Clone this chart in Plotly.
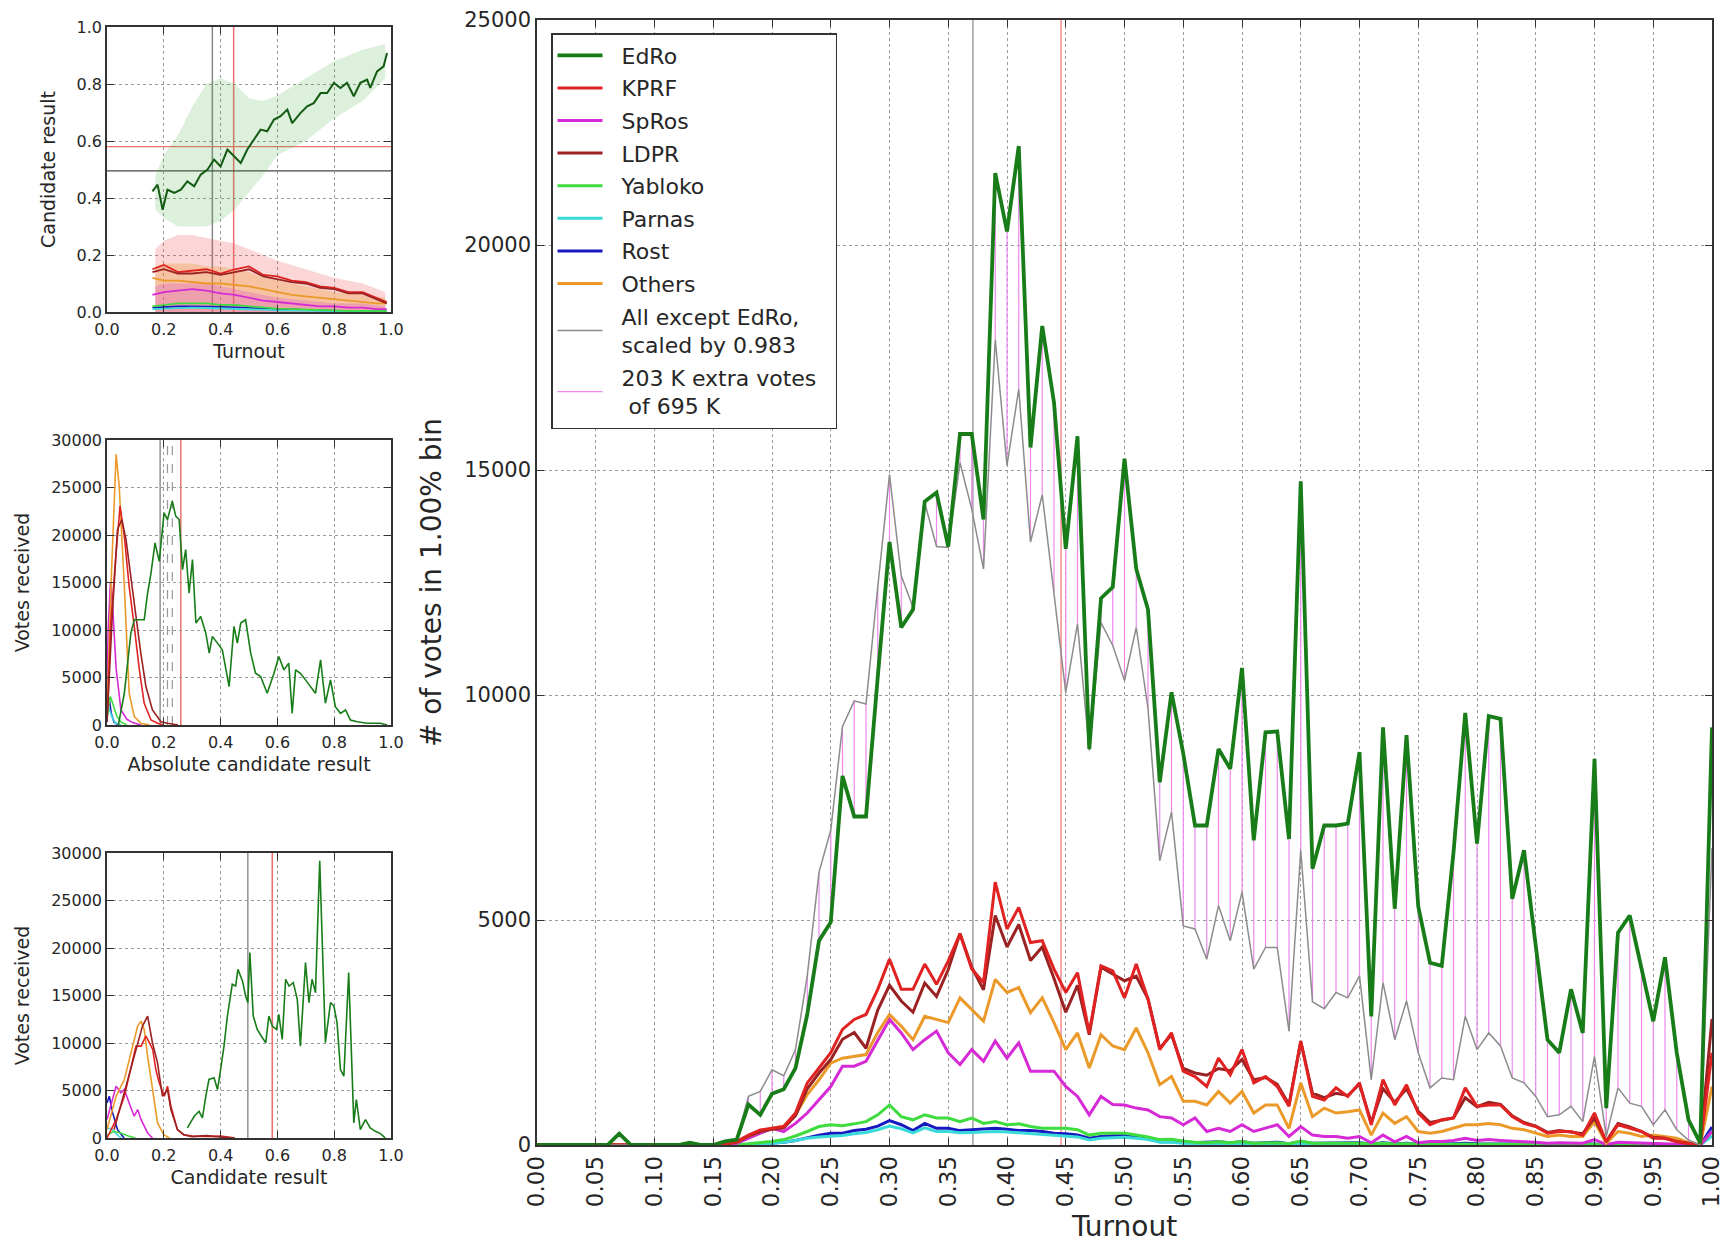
import plotly.graph_objects as go

W, H = 1726, 1245

# ---------------- main chart data (1% turnout bins) ----------------
turnout = [i / 100 for i in range(101)]

edro = [0, 0, 0, 0, 0, 0, 0, 250, 0, 0, 0, 0, 0, 50, 0, 0, 80, 120, 900, 670,
        1140, 1240, 1710, 2900, 4540, 4950, 8200, 7300, 7300, 10400,
        13400, 11500, 11900, 14300, 14500, 13300, 15800, 15800, 13900, 21600,
        20300, 22200, 15500, 18200, 16500, 13250, 15750, 8800, 12150, 12400,
        15250, 12800, 11900, 8060, 10060, 8700, 7100, 7100, 8800, 8360,
        10600, 6770, 9170, 9190, 6800, 14750, 6140, 7100, 7100, 7140,
        8730, 2860, 9280, 5250, 9110, 5300, 4050, 3980, 6500, 9600,
        6700, 9530, 9470, 5470, 6550, 4430, 2340, 2050, 3460, 2490,
        8580, 820, 4720, 5100, 3900, 2750, 4170, 2050, 560, 40, 9280]

all_except = [0, 0, 0, 0, 0, 0, 0, 0, 0, 0, 0, 0, 0, 60, 0, 0, 90, 130, 1080, 1190,
              1670, 1540, 2120, 3760, 6060, 7000, 9300, 9870, 9800, 12400,
              14900, 12650, 11950, 14270, 13300, 13280, 15160, 14130, 12800, 17900,
              15100, 16800, 13400, 14450, 12300, 10060, 11580, 8770, 11610, 11100,
              10320, 11500, 9700, 6320, 7400, 4870, 4800, 4130, 5320, 4540,
              5620, 3910, 4390, 4390, 2530, 6550, 3180, 3030, 3390, 3270,
              3760, 1450, 3610, 2340, 3200, 2050, 1270, 1490, 1450, 2860,
              2120, 2490, 2200, 1490, 1380, 1080, 630, 670, 860, 520,
              1970, 190, 1270, 930, 860, 450, 780, 340, 110, 0, 6600]

kprf = [0, 0, 0, 0, 0, 0, 0, 0, 0, 0, 0, 0, 0, 0, 0, 0, 30, 75, 220, 335,
        370, 410, 710, 1380, 1710, 2050, 2570, 2790, 2900, 3460,
        4130, 3460, 3460, 4020, 3570, 4090, 4690, 3910, 3610, 5840,
        4800, 5280, 4500, 4540, 3910, 3390, 3830, 2490, 3980, 3870,
        3270, 4020, 3240, 2120, 2490, 1640, 1520, 1300, 1930, 1560,
        2120, 1380, 1520, 1300, 860, 2310, 1080, 1000, 1270, 1080,
        1380, 450, 1450, 890, 1340, 710, 450, 560, 600, 1270,
        860, 890, 890, 630, 480, 410, 260, 300, 300, 220,
        710, 70, 450, 370, 300, 150, 150, 70, 40, 0, 2050]

ldpr = [0, 0, 0, 0, 0, 0, 0, 0, 0, 0, 0, 0, 0, 0, 0, 0, 20, 60, 200, 300,
        350, 380, 650, 1250, 1600, 1900, 2350, 2500, 2150, 3000,
        3550, 3200, 2950, 3600, 3300, 3900, 4700, 3950, 3450, 5100,
        4400, 4900, 4100, 4400, 3700, 2950, 3550, 2450, 3950, 3800,
        3650, 3750, 3250, 2150, 2450, 1700, 1600, 1550, 1700, 1650,
        1900, 1450, 1500, 1350, 900, 2300, 1150, 1050, 1150, 1100,
        1350, 500, 1250, 950, 1250, 750, 500, 550, 600, 1050,
        850, 950, 900, 650, 500, 420, 280, 320, 280, 250,
        600, 80, 480, 400, 300, 170, 150, 80, 40, 0, 2800]

others = [0, 0, 0, 0, 0, 0, 0, 0, 0, 0, 0, 0, 0, 0, 0, 0, 30, 60, 200, 300,
          370, 420, 670, 1120, 1450, 1820, 1930, 1970, 2010, 2500,
          2900, 2640, 2340, 2860, 2790, 2720, 3270, 3010, 2750, 3680,
          3390, 3500, 2940, 3270, 2720, 2120, 2490, 1710, 2450, 2200,
          2120, 2600, 2050, 1340, 1520, 970, 970, 890, 1190, 930,
          1190, 710, 890, 890, 370, 1380, 630, 820, 710, 740,
          780, 220, 710, 480, 630, 300, 260, 300, 370, 450,
          450, 480, 450, 370, 340, 260, 190, 220, 190, 190,
          520, 40, 300, 260, 190, 220, 190, 150, 50, 0, 1300]

spros = [0, 0, 0, 0, 0, 0, 0, 0, 0, 0, 0, 0, 0, 0, 0, 0, 0, 40, 150, 250,
         370, 300, 480, 710, 1000, 1300, 1750, 1750, 1860, 2340,
         2790, 2490, 2120, 2340, 2530, 2050, 1790, 2120, 1860, 2310,
         1930, 2270, 1640, 1640, 1640, 1300, 1080, 670, 1080, 900,
         890, 820, 780, 630, 600, 450, 600, 300, 370, 300,
         450, 300, 370, 450, 190, 410, 220, 190, 190, 150,
         190, 50, 220, 70, 190, 50, 80, 80, 100, 150,
         100, 120, 100, 80, 70, 60, 40, 50, 40, 40,
         120, 10, 60, 50, 40, 30, 30, 20, 10, 0, 300]

yabloko = [0, 0, 0, 0, 0, 0, 0, 0, 0, 0, 0, 0, 0, 0, 0, 0, 0, 0, 30, 50,
           80, 120, 200, 300, 410, 450, 430, 470, 520, 670,
           890, 630, 560, 670, 600, 600, 520, 600, 480, 520,
           450, 470, 410, 370, 370, 370, 340, 220, 260, 260,
           260, 220, 180, 120, 130, 90, 60, 50, 70, 50,
           80, 40, 50, 50, 30, 90, 40, 40, 40, 30,
           40, 20, 40, 20, 30, 20, 20, 20, 30, 30,
           20, 20, 20, 20, 15, 15, 10, 10, 10, 10,
           20, 5, 15, 10, 10, 5, 5, 5, 5, 0, 300]

parnas = [0, 0, 0, 0, 0, 0, 0, 0, 0, 0, 0, 0, 0, 0, 0, 0, 0, 0, 0, 20,
          40, 60, 100, 150, 180, 200, 210, 250, 280, 340,
          420, 360, 270, 380, 300, 300, 270, 280, 290, 300,
          290, 270, 260, 240, 210, 190, 180, 110, 150, 160,
          170, 150, 120, 60, 60, 40, 30, 30, 40, 30,
          40, 30, 30, 30, 20, 40, 20, 20, 20, 20,
          20, 10, 20, 10, 20, 10, 10, 10, 10, 20,
          10, 10, 10, 10, 10, 10, 5, 5, 5, 5,
          10, 0, 5, 5, 5, 5, 5, 0, 0, 0, 200]

rost = [0, 0, 0, 0, 0, 0, 0, 0, 0, 0, 0, 0, 0, 0, 0, 0, 0, 0, 0, 20,
        40, 60, 100, 160, 220, 260, 260, 320, 350, 420,
        540, 450, 320, 480, 370, 370, 320, 340, 350, 370,
        350, 320, 320, 300, 260, 250, 220, 150, 190, 200,
        220, 200, 150, 70, 80, 50, 50, 60, 70, 50,
        70, 40, 50, 60, 30, 70, 40, 40, 50, 40,
        50, 20, 50, 30, 40, 20, 30, 30, 30, 40,
        30, 30, 30, 20, 20, 20, 10, 10, 10, 10,
        20, 0, 10, 10, 10, 5, 5, 5, 0, 0, 400]

ref_turnout_gray = 0.371
ref_turnout_red = 0.446

# ---------------- top-left: result vs turnout ----------------
tl_edro_t = [0.16, 0.178, 0.196, 0.213, 0.237, 0.26, 0.283, 0.307, 0.33, 0.354, 0.377, 0.4,
             0.424, 0.447, 0.471, 0.494, 0.518, 0.541, 0.564, 0.588, 0.611, 0.635, 0.652,
             0.681, 0.705, 0.728, 0.752, 0.775, 0.799, 0.822, 0.845, 0.869, 0.892, 0.916,
             0.927, 0.951, 0.974, 0.986]
tl_edro = [0.423, 0.447, 0.359, 0.429, 0.418, 0.429, 0.458, 0.441, 0.482, 0.5, 0.535, 0.511,
           0.57, 0.546, 0.523, 0.57, 0.605, 0.64, 0.634, 0.675, 0.687, 0.71, 0.663,
           0.698, 0.722, 0.733, 0.768, 0.768, 0.804, 0.786, 0.804, 0.757, 0.804, 0.815,
           0.786, 0.844, 0.862, 0.909]
tl_t = [0.16, 0.2, 0.25, 0.3, 0.35, 0.4, 0.45, 0.5, 0.55, 0.6, 0.65, 0.7, 0.75, 0.8, 0.85, 0.9, 0.95, 0.985]
tl_kprf = [0.15, 0.165, 0.14, 0.145, 0.15, 0.135, 0.15, 0.16, 0.13, 0.125, 0.11, 0.105, 0.09, 0.085, 0.07, 0.07, 0.05, 0.035]
tl_ldpr = [0.14, 0.15, 0.135, 0.135, 0.14, 0.13, 0.14, 0.15, 0.125, 0.115, 0.105, 0.1, 0.085, 0.08, 0.065, 0.065, 0.045, 0.03]
tl_others = [0.12, 0.11, 0.11, 0.105, 0.1, 0.1, 0.095, 0.09, 0.08, 0.07, 0.06, 0.055, 0.05, 0.045, 0.04, 0.035, 0.03, 0.03]
tl_spros = [0.06, 0.07, 0.075, 0.08, 0.075, 0.065, 0.06, 0.05, 0.04, 0.035, 0.03, 0.025, 0.02, 0.02, 0.015, 0.015, 0.01, 0.01]
tl_yab = [0.02, 0.025, 0.03, 0.03, 0.03, 0.025, 0.025, 0.02, 0.015, 0.012, 0.01, 0.008, 0.006, 0.005, 0.004, 0.004, 0.003, 0.003]
tl_parnas = [0.01, 0.012, 0.015, 0.015, 0.014, 0.013, 0.012, 0.01, 0.008, 0.006, 0.005, 0.004, 0.003, 0.003, 0.002, 0.002, 0.002, 0.002]
tl_rost = [0.015, 0.018, 0.02, 0.02, 0.02, 0.018, 0.016, 0.014, 0.012, 0.01, 0.008, 0.006, 0.005, 0.004, 0.003, 0.003, 0.002, 0.002]
# envelopes of the precinct point clouds
cloud_t = [0.17, 0.2, 0.25, 0.3, 0.35, 0.4, 0.45, 0.5, 0.55, 0.6, 0.7, 0.8, 0.9, 0.98]
green_hi = [0.48, 0.55, 0.62, 0.72, 0.8, 0.82, 0.8, 0.75, 0.74, 0.76, 0.82, 0.88, 0.92, 0.94]
green_lo = [0.36, 0.33, 0.3, 0.3, 0.3, 0.32, 0.36, 0.42, 0.48, 0.55, 0.6, 0.68, 0.74, 0.82]
red_hi = [0.22, 0.25, 0.27, 0.27, 0.26, 0.25, 0.24, 0.22, 0.2, 0.18, 0.15, 0.12, 0.1, 0.07]
orange_hi = [0.16, 0.17, 0.17, 0.17, 0.16, 0.16, 0.15, 0.14, 0.12, 0.11, 0.09, 0.07, 0.06, 0.05]
mag_hi = [0.09, 0.1, 0.1, 0.1, 0.1, 0.09, 0.08, 0.07, 0.06, 0.05, 0.04, 0.03, 0.03, 0.02]
tl_hline_gray = 0.495
tl_hline_red = 0.58

# ---------------- middle-left: absolute result ----------------
mid_edro_x = [0.04, 0.061, 0.084, 0.096, 0.108, 0.131, 0.143, 0.155, 0.169, 0.184, 0.201, 0.213, 0.23,
              0.242, 0.254, 0.266, 0.277, 0.289, 0.301, 0.313, 0.33, 0.348, 0.36, 0.371, 0.389,
              0.406, 0.43, 0.447, 0.459, 0.471, 0.488, 0.506, 0.523, 0.541, 0.564, 0.588, 0.605,
              0.623, 0.64, 0.652, 0.664, 0.681, 0.699, 0.717, 0.734, 0.752, 0.769, 0.787, 0.804,
              0.822, 0.84, 0.857, 0.881, 0.916, 0.963, 0.986]
mid_edro_y = [0, 3340, 9670, 11080, 11080, 11080, 13890, 16000, 19170, 17230, 22330, 21630, 23570,
              21980, 21630, 16360, 18470, 13890, 17410, 10730, 11430, 9670, 7560, 9320, 8620,
              7910, 4050, 10380, 8620, 10730, 11080, 7560, 5450, 5100, 3340, 5450, 7210,
              5800, 6510, 1230, 5800, 5450, 4750, 4050, 3340, 6860, 2290, 4750, 1930,
              1230, 1580, 530, 350, 180, 180, 0]
mid_others_x = [0, 0.014, 0.032, 0.043, 0.061, 0.078, 0.096, 0.12, 0.15]
mid_others_y = [1000, 14600, 28490, 25150, 14600, 3340, 880, 180, 0]
mid_kprf_x = [0, 0.014, 0.032, 0.046, 0.061, 0.078, 0.096, 0.114, 0.131, 0.155, 0.178, 0.2]
mid_kprf_y = [350, 11080, 18110, 23040, 19870, 14600, 10380, 5800, 2290, 530, 180, 0]
mid_ldpr_x = [0, 0.02, 0.037, 0.052, 0.067, 0.084, 0.102, 0.119, 0.137, 0.16, 0.19, 0.213, 0.25]
mid_ldpr_y = [300, 12300, 20580, 21630, 19520, 15300, 11430, 7560, 4050, 1580, 350, 180, 0]
mid_spros_x = [0, 0.004, 0.012, 0.02, 0.032, 0.049, 0.07, 0.09, 0.12]
mid_spros_y = [3000, 10000, 15000, 12500, 6000, 1580, 600, 250, 0]
mid_yab_x = [0, 0.005, 0.012, 0.02, 0.035, 0.05, 0.07]
mid_yab_y = [500, 2000, 3000, 2200, 900, 300, 0]
mid_parnas_x = [0, 0.005, 0.01, 0.02, 0.03, 0.05]
mid_parnas_y = [800, 2000, 1500, 700, 200, 0]
mid_rost_x = [0, 0.004, 0.009, 0.015, 0.025, 0.04]
mid_rost_y = [1500, 3000, 2500, 1200, 300, 0]
mid_vl_gray = 0.187
mid_vl_dash = [0.213, 0.23]
mid_vl_red = 0.26

# ---------------- bottom-left: candidate result ----------------
bot_edro_x = [0.283, 0.307, 0.324, 0.336, 0.348, 0.359, 0.377, 0.389, 0.4, 0.412, 0.424, 0.441, 0.453,
              0.461, 0.477, 0.488, 0.496, 0.503, 0.515, 0.529, 0.547, 0.559, 0.57, 0.582, 0.597,
              0.605, 0.617, 0.629, 0.641, 0.656, 0.67, 0.681, 0.699, 0.711, 0.722, 0.734, 0.749,
              0.769, 0.787, 0.799, 0.81, 0.822, 0.834, 0.851, 0.869, 0.878, 0.892, 0.91, 0.927,
              0.945, 0.963, 0.98]
bot_edro_y = [1060, 2290, 2810, 2110, 4400, 6160, 6330, 5100, 7210, 9670, 12840, 16180, 16000,
              17760, 16530, 14950, 14250, 19520, 12840, 11430, 10550, 10030, 12840, 11780, 11430,
              13010, 10380, 16710, 16000, 16360, 14600, 9670, 18470, 14250, 16710, 15300, 29190,
              10030, 14250, 13890, 12140, 7210, 6510, 17410, 1580, 4050, 880, 1940, 1060,
              700, 460, 0]
bot_others_x = [0, 0.032, 0.061, 0.09, 0.108, 0.12, 0.131, 0.143, 0.16, 0.178, 0.2, 0.22]
bot_others_y = [900, 4400, 6150, 9670, 11780, 12300, 11430, 8620, 5100, 1580, 350, 0]
bot_kprf_x = [0, 0.032, 0.061, 0.084, 0.102, 0.12, 0.137, 0.149, 0.161, 0.172, 0.184, 0.202, 0.213,
              0.225, 0.248, 0.27, 0.3, 0.35, 0.4, 0.45]
bot_kprf_y = [0, 1930, 4400, 7210, 9670, 9670, 10730, 10030, 9320, 7210, 5800, 4400, 5450,
              3340, 880, 350, 200, 150, 200, 0]
bot_ldpr_x = [0.025, 0.061, 0.09, 0.108, 0.125, 0.143, 0.16, 0.178, 0.195, 0.213, 0.225, 0.248,
              0.27, 0.3, 0.35, 0.4, 0.45]
bot_ldpr_y = [880, 4750, 7910, 9670, 11780, 12840, 10030, 7910, 4400, 5100, 3000, 880,
              350, 150, 250, 100, 0]
bot_spros_x = [0, 0.02, 0.032, 0.049, 0.061, 0.078, 0.096, 0.108, 0.12, 0.143, 0.16]
bot_spros_y = [1940, 4050, 5450, 4750, 5100, 3690, 2290, 2990, 1930, 530, 0]
bot_rost_x = [0, 0.008, 0.02, 0.037, 0.06]
bot_rost_y = [3690, 4400, 2640, 880, 0]
bot_parnas_x = [0, 0.015, 0.03, 0.05]
bot_parnas_y = [1000, 1000, 500, 0]
bot_yab_x = [0, 0.025, 0.05, 0.075, 0.1]
bot_yab_y = [300, 700, 500, 200, 0]
bot_vl_gray = 0.496
bot_vl_red = 0.582

# ---------------- styles ----------------
C_EDRO = "#187d18"
C_KPRF = "#e02222"
C_SPROS = "#d62ad6"
C_LDPR = "#9b2222"
C_YAB = "#3fdc3f"
C_PARNAS = "#3adada"
C_ROST = "#1818c0"
C_OTHERS = "#eb9a2a"
C_GRAY = "#8c8c8c"
C_PINK = "#ee88ee"
FONT = "DejaVu Sans"
TXT = "#262626"
SP = "\u00a0\u00a0"

fig = go.Figure()

# ---------- main chart ----------
hx, hy = [], []
for t, g, a in zip(turnout, edro, all_except):
    if 0.17 <= t <= 0.99 and g != a:
        hx += [t, t, None]
        hy += [a, g, None]
fig.add_trace(go.Scatter(x=hx, y=hy, mode="lines", line=dict(color=C_PINK, width=1.2),
                         name=SP + "203 K extra votes" + SP + "<br>" + SP + " of 695 K",
                         legendrank=10, legendgroup="g10", xaxis="x", yaxis="y"))

main_series = [
    ("Rost", rost, C_ROST, 3, 7),
    ("Parnas", parnas, C_PARNAS, 3, 6),
    ("Yabloko", yabloko, C_YAB, 3, 5),
    ("SpRos", spros, C_SPROS, 3, 3),
    ("Others", others, C_OTHERS, 3, 8),
    ("LDPR", ldpr, C_LDPR, 3, 4),
    ("KPRF", kprf, C_KPRF, 3, 2),
]
for name, vals, col, w, rank in main_series:
    fig.add_trace(go.Scatter(x=turnout, y=vals, mode="lines", name=SP + name,
                             line=dict(color=col, width=w), legendrank=rank,
                             legendgroup="g%d" % rank, xaxis="x", yaxis="y"))
fig.add_trace(go.Scatter(x=turnout, y=all_except, mode="lines",
                         name=SP + "All except EdRo,<br>" + SP + "scaled by 0.983",
                         line=dict(color=C_GRAY, width=1.5), legendrank=9, legendgroup="g9",
                         xaxis="x", yaxis="y"))
fig.add_trace(go.Scatter(x=turnout, y=edro, mode="lines", name=SP + "EdRo",
                         line=dict(color=C_EDRO, width=3.8), legendrank=1, legendgroup="g1",
                         xaxis="x", yaxis="y"))

# ---------- top-left ----------
def band(t, hi, lo, color, ax):
    fig.add_trace(go.Scatter(x=t + t[::-1], y=hi + lo[::-1], mode="lines", fill="toself",
                             fillcolor=color, line=dict(width=0), showlegend=False,
                             hoverinfo="skip", xaxis=ax[0], yaxis=ax[1]))

zeros = [0] * len(cloud_t)
band(cloud_t, green_hi, green_lo, "rgba(60,170,60,0.18)", ("x2", "y2"))
band(cloud_t, red_hi, zeros, "rgba(230,70,70,0.22)", ("x2", "y2"))
band(cloud_t, orange_hi, zeros, "rgba(240,150,40,0.30)", ("x2", "y2"))
band(cloud_t, mag_hi, zeros, "rgba(220,60,220,0.25)", ("x2", "y2"))

for vals, col in [(tl_rost, C_ROST), (tl_parnas, C_PARNAS), (tl_yab, C_YAB), (tl_spros, C_SPROS),
                  (tl_others, C_OTHERS), (tl_kprf, C_KPRF), (tl_ldpr, C_LDPR)]:
    fig.add_trace(go.Scatter(x=tl_t, y=vals, mode="lines", line=dict(color=col, width=1.8),
                             showlegend=False, xaxis="x2", yaxis="y2"))
fig.add_trace(go.Scatter(x=tl_edro_t, y=tl_edro, mode="lines", line=dict(color="#135a13", width=2),
                         showlegend=False, xaxis="x2", yaxis="y2"))

# ---------- middle-left ----------
for xs, ys, col in [(mid_rost_x, mid_rost_y, C_ROST), (mid_parnas_x, mid_parnas_y, C_PARNAS),
                    (mid_yab_x, mid_yab_y, C_YAB), (mid_spros_x, mid_spros_y, C_SPROS),
                    (mid_others_x, mid_others_y, C_OTHERS), (mid_kprf_x, mid_kprf_y, C_KPRF),
                    (mid_ldpr_x, mid_ldpr_y, C_LDPR), (mid_edro_x, mid_edro_y, C_EDRO)]:
    fig.add_trace(go.Scatter(x=xs, y=ys, mode="lines", line=dict(color=col, width=1.6),
                             showlegend=False, xaxis="x3", yaxis="y3"))

# ---------- bottom-left ----------
for xs, ys, col in [(bot_rost_x, bot_rost_y, C_ROST), (bot_parnas_x, bot_parnas_y, C_PARNAS),
                    (bot_yab_x, bot_yab_y, C_YAB), (bot_spros_x, bot_spros_y, C_SPROS),
                    (bot_others_x, bot_others_y, C_OTHERS), (bot_kprf_x, bot_kprf_y, C_KPRF),
                    (bot_ldpr_x, bot_ldpr_y, C_LDPR), (bot_edro_x, bot_edro_y, C_EDRO)]:
    fig.add_trace(go.Scatter(x=xs, y=ys, mode="lines", line=dict(color=col, width=1.6),
                             showlegend=False, xaxis="x4", yaxis="y4"))

# ---------- reference lines ----------
shapes = []
def vline(x, ax, col, dash="solid", w=1.2):
    shapes.append(dict(type="line", xref=ax[0], yref=ax[1] + " domain", x0=x, x1=x, y0=0, y1=1,
                       line=dict(color=col, width=w, dash=dash), layer="below"))
def hline(y, ax, col, w=1.2):
    shapes.append(dict(type="line", xref=ax[0] + " domain", yref=ax[1], x0=0, x1=1, y0=y, y1=y,
                       line=dict(color=col, width=w), layer="below"))

vline(ref_turnout_gray, ("x", "y"), "#888888")
vline(ref_turnout_red, ("x", "y"), "#f07070")
vline(ref_turnout_gray, ("x2", "y2"), "#888888", w=1.5)
vline(ref_turnout_red, ("x2", "y2"), "#f07070", w=1.5)
hline(tl_hline_gray, ("x2", "y2"), "#444444")
hline(tl_hline_red, ("x2", "y2"), "#f07070")
vline(mid_vl_gray, ("x3", "y3"), "#777777")
for xv in mid_vl_dash:
    vline(xv, ("x3", "y3"), "#999999", dash="dash")
vline(mid_vl_red, ("x3", "y3"), "#e05050")
vline(bot_vl_gray, ("x4", "y4"), "#777777")
vline(bot_vl_red, ("x4", "y4"), "#f07070", w=1.6)

# ---------- axes ----------
main_x = [537 / W, 1712 / W]
main_y = [1 - 1145 / H, 1 - 20 / H]
small_x = [107 / W, 391 / W]
top_y = [1 - 312 / H, 1 - 27 / H]
mid_y = [1 - 725 / H, 1 - 440 / H]
bot_y = [1 - 1138 / H, 1 - 853 / H]

def ax_style(domain, rng, dtick, tickfont, title, titlefont, anchor, fmt=None, angle=None,
             standoff=6, lblstand=0):
    d = dict(domain=domain, range=rng, dtick=dtick, tick0=0, anchor=anchor,
             showline=True, linecolor="#333333", linewidth=1.5, mirror="ticks",
             ticks="inside", ticklen=7, tickcolor="#333333",
             showgrid=True, gridcolor="#9a9a9a", griddash="dot", gridwidth=1,
             zeroline=False, tickfont=dict(family=FONT, size=tickfont, color=TXT),
             title=dict(text=title, font=dict(family=FONT, size=titlefont, color=TXT), standoff=standoff),
             automargin=False, tickformat=fmt if fmt else "d", ticklabelstandoff=lblstand)
    if angle is not None:
        d["tickangle"] = angle
    return d

layout = dict(
    width=W, height=H,
    margin=dict(l=0, r=0, t=0, b=0),
    paper_bgcolor="white", plot_bgcolor="white",
    shapes=shapes,
    xaxis=ax_style(main_x, [0, 1.0], 0.05, 23, "Turnout", 28, "y", fmt=".2f", angle=-90, standoff=10),
    yaxis=ax_style(main_y, [0, 25000], 5000, 21, "# of votes in 1.00% bin", 28, "x", standoff=14),
    xaxis2=ax_style(small_x, [0, 1.0], 0.2, 16, "Turnout", 19, "y2", fmt=".1f", standoff=7, lblstand=2),
    yaxis2=ax_style(top_y, [0, 1.0], 0.2, 16, "Candidate result", 19, "x2", fmt=".1f", standoff=16),
    xaxis3=ax_style(small_x, [0, 1.0], 0.2, 16, "Absolute candidate result", 19, "y3", fmt=".1f",
                    standoff=7, lblstand=2),
    yaxis3=ax_style(mid_y, [0, 30000], 5000, 16, "Votes received", 19, "x3", standoff=16),
    xaxis4=ax_style(small_x, [0, 1.0], 0.2, 16, "Candidate result", 19, "y4", fmt=".1f",
                    standoff=7, lblstand=2),
    yaxis4=ax_style(bot_y, [0, 30000], 5000, 16, "Votes received", 19, "x4", standoff=16),
    legend=dict(x=551 / W, y=1 - 33 / H, xanchor="left", yanchor="top",
                bgcolor="white", bordercolor="#333333", borderwidth=1.5,
                font=dict(family=FONT, size=22, color=TXT), traceorder="grouped",
                tracegroupgap=1, itemwidth=45),
    showlegend=True,
)
fig.update_layout(**layout)

fig.write_html("out.html", config={"displayModeBar": False},
               post_script="document.body.style.margin='0px';")
